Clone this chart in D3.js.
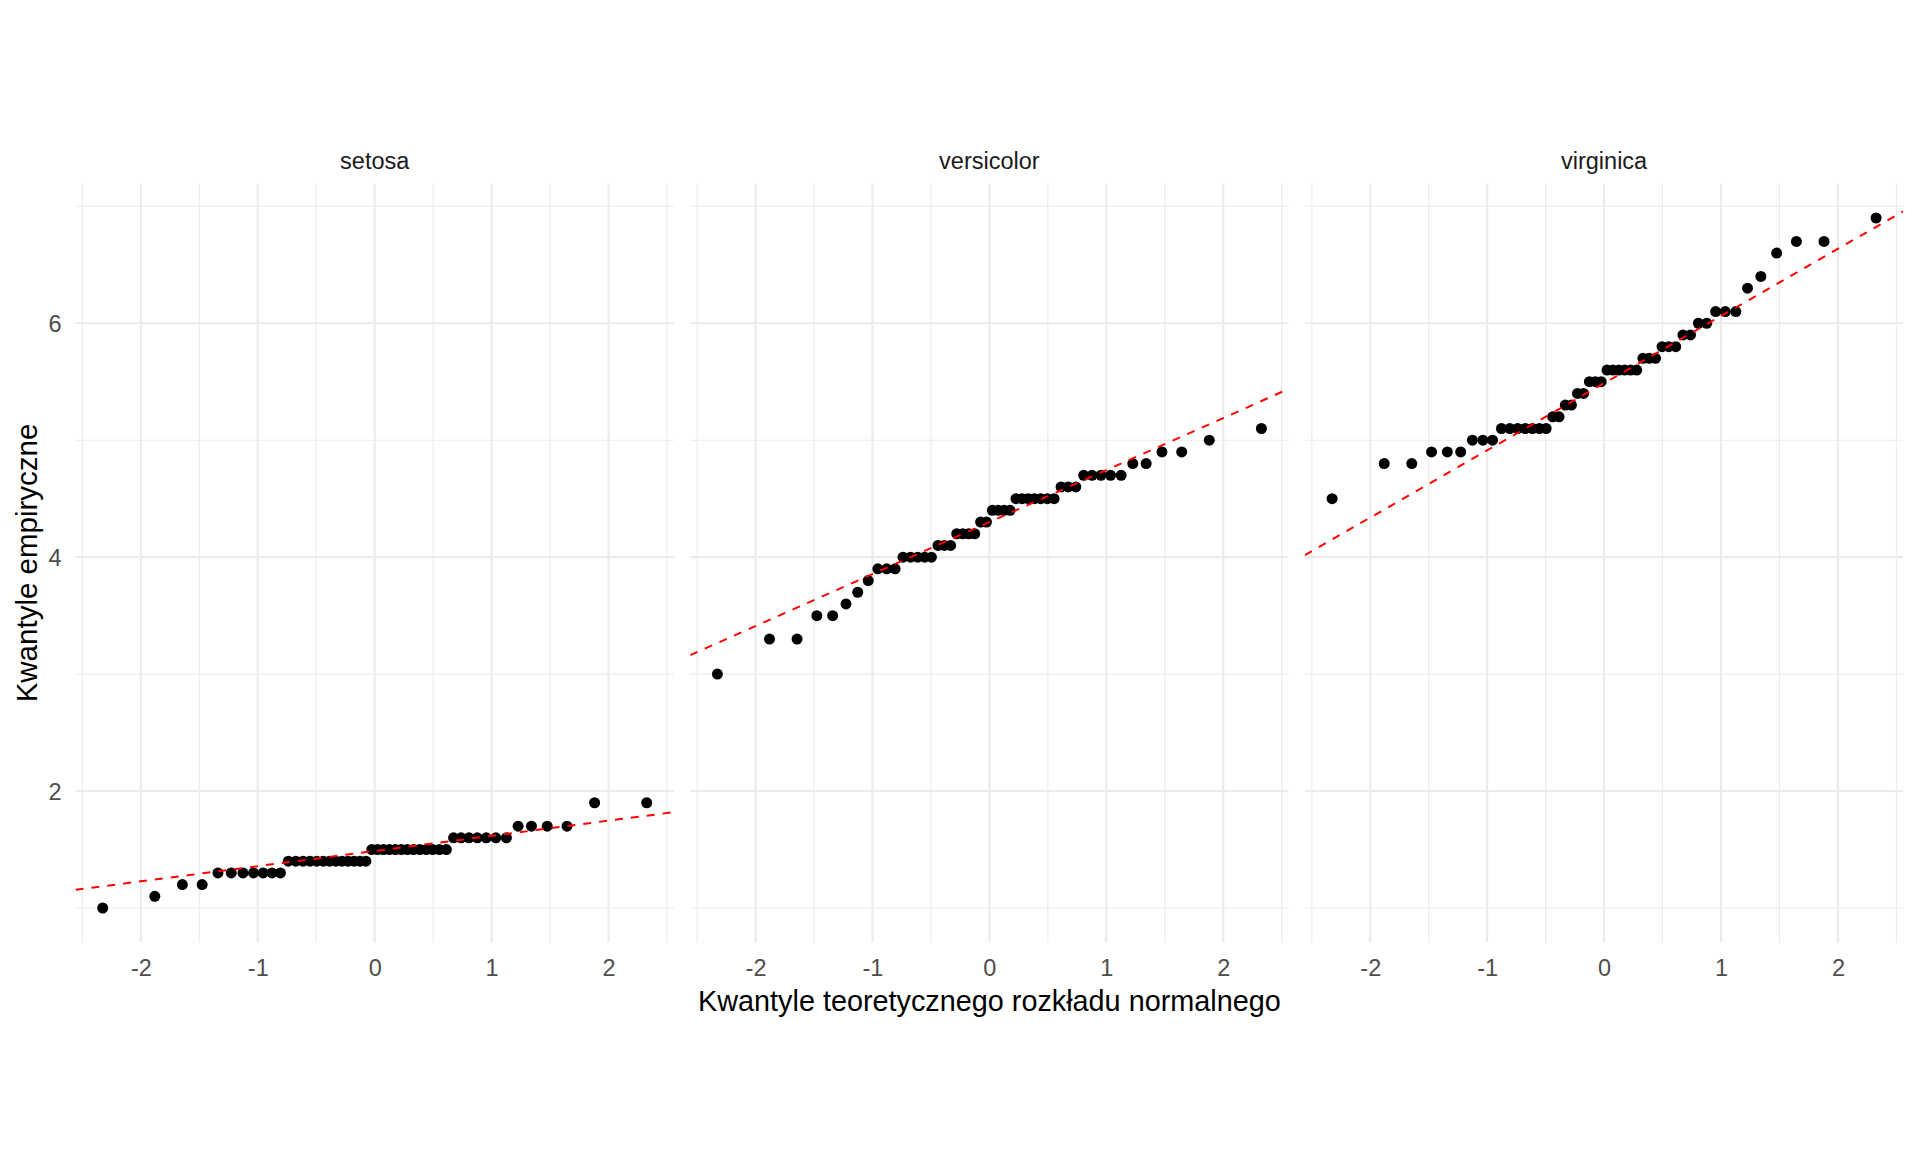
<!DOCTYPE html>
<html>
<head>
<meta charset="utf-8">
<script src="https://cdn.jsdelivr.net/npm/d3@7"></script>
<style>
html,body{margin:0;padding:0;background:#fff;}
svg{display:block;font-family:"Liberation Sans",Arial,sans-serif;}
</style>
</head>
<body>
<svg id="chart" width="1920" height="1152"></svg>
<script>
// ---- data ----
const species = ["setosa", "versicolor", "virginica"];

// sorted Petal.Length values per species (empirical quantiles)
const setosaValues = [1.0,1.1,1.2,1.2,1.3,1.3,1.3,1.3,1.3,1.3,1.3,1.4,1.4,1.4,1.4,1.4,1.4,1.4,1.4,1.4,1.4,1.4,1.4,1.4,1.5,1.5,1.5,1.5,1.5,1.5,1.5,1.5,1.5,1.5,1.5,1.5,1.5,1.6,1.6,1.6,1.6,1.6,1.6,1.6,1.7,1.7,1.7,1.7,1.9,1.9];
const versicolorValues = [3.0,3.3,3.3,3.5,3.5,3.6,3.7,3.8,3.9,3.9,3.9,4.0,4.0,4.0,4.0,4.0,4.1,4.1,4.1,4.2,4.2,4.2,4.2,4.3,4.3,4.4,4.4,4.4,4.4,4.5,4.5,4.5,4.5,4.5,4.5,4.5,4.6,4.6,4.6,4.7,4.7,4.7,4.7,4.7,4.8,4.8,4.9,4.9,5.0,5.1];
const virginicaValues = [4.5,4.8,4.8,4.9,4.9,4.9,5.0,5.0,5.0,5.1,5.1,5.1,5.1,5.1,5.1,5.1,5.2,5.2,5.3,5.3,5.4,5.4,5.5,5.5,5.5,5.6,5.6,5.6,5.6,5.6,5.6,5.7,5.7,5.7,5.8,5.8,5.8,5.9,5.9,6.0,6.0,6.1,6.1,6.1,6.3,6.4,6.6,6.7,6.7,6.9];

// theoretical normal quantiles for n = 50
const theoreticalQuantiles = [-2.3263479,-1.8807936,-1.6448536,-1.4757910,-1.3407550,-1.2265281,-1.1263911,-1.0364334,-0.9541653,-0.8778963,-0.8064212,-0.7388468,-0.6744898,-0.6128130,-0.5533847,-0.4958503,-0.4399132,-0.3853205,-0.3318533,-0.2793190,-0.2275450,-0.1763742,-0.1256613,-0.0752699,-0.0250689,0.0250689,0.0752699,0.1256613,0.1763742,0.2275450,0.2793190,0.3318533,0.3853205,0.4399132,0.4958503,0.5533847,0.6128130,0.6744898,0.7388468,0.8064212,0.8778963,0.9541653,1.0364334,1.1263911,1.2265281,1.3407550,1.4757910,1.6448536,1.8807936,2.3263479];

const xTicks = [-2, -1, 0, 1, 2];
const yTicks = [2, 4, 6];
const xMinor = [-2.5, -1.5, -0.5, 0.5, 1.5, 2.5];
const yMinor = [1, 3, 5, 7];

const xTitle = "Kwantyle teoretycznego rozkładu normalnego";
const yTitle = "Kwantyle empiryczne";

// ---- layout ----
const valuesBySpecies = {setosa: setosaValues, versicolor: versicolorValues, virginica: virginicaValues};
const panelLeft = 75.5, panelWidth = 598.4, panelGap = 16.3;
const panelTop = 183.5, panelBottom = 942.5;

const svg = d3.select("#chart");

function expand(ext) {
  const d = (ext[1] - ext[0]) * 0.05;
  return [ext[0] - d, ext[1] + d];
}
const xDomain = expand(d3.extent(theoreticalQuantiles));
const yDomain = expand(d3.extent([].concat(setosaValues, versicolorValues, virginicaValues)));

const y = d3.scaleLinear().domain(yDomain).range([panelBottom, panelTop]);

const gridColor = "#EBEBEB";
const fmt = d => d < 0 ? "-" + Math.abs(d) : String(d);

species.forEach((sp, i) => {
  const x0 = panelLeft + i * (panelWidth + panelGap);
  const x = d3.scaleLinear().domain(xDomain).range([x0, x0 + panelWidth]);
  const g = svg.append("g");

  // clip
  svg.append("clipPath").attr("id", "clip" + i)
    .append("rect").attr("x", x0).attr("y", panelTop)
    .attr("width", panelWidth).attr("height", panelBottom - panelTop);

  // minor grid
  g.selectAll(".ymin").data(yMinor).enter().append("line")
    .attr("x1", x0).attr("x2", x0 + panelWidth)
    .attr("y1", d => y(d)).attr("y2", d => y(d))
    .attr("stroke", gridColor).attr("stroke-width", 1.1);
  g.selectAll(".xmin").data(xMinor).enter().append("line")
    .attr("x1", d => x(d)).attr("x2", d => x(d))
    .attr("y1", panelTop).attr("y2", panelBottom)
    .attr("stroke", gridColor).attr("stroke-width", 1.1);
  // major grid
  g.selectAll(".ymaj").data(yTicks).enter().append("line")
    .attr("x1", x0).attr("x2", x0 + panelWidth)
    .attr("y1", d => y(d)).attr("y2", d => y(d))
    .attr("stroke", gridColor).attr("stroke-width", 2.1);
  g.selectAll(".xmaj").data(xTicks).enter().append("line")
    .attr("x1", d => x(d)).attr("x2", d => x(d))
    .attr("y1", panelTop).attr("y2", panelBottom)
    .attr("stroke", gridColor).attr("stroke-width", 2.1);

  // x axis (tick labels only)
  const xAxis = d3.axisBottom(x).tickValues(xTicks).tickSize(0).tickPadding(0).tickFormat(fmt);
  const ax = g.append("g").attr("transform", `translate(0,${panelBottom})`).call(xAxis);
  ax.select(".domain").remove();
  ax.selectAll("text").attr("dy", null).attr("y", 33).attr("fill", "#4D4D4D")
    .attr("font-size", 23.5).attr("font-family", "Liberation Sans, Arial, sans-serif");

  // strip label
  g.append("text").attr("x", x0 + panelWidth / 2).attr("y", 169)
    .attr("text-anchor", "middle").attr("font-size", 23.5).attr("fill", "#1A1A1A")
    .text(sp);

  // points
  const vals = valuesBySpecies[sp];
  g.selectAll(".pt").data(vals).enter().append("circle")
    .attr("cx", (d, j) => x(theoreticalQuantiles[j]))
    .attr("cy", d => y(d))
    .attr("r", 5.5).attr("fill", "#000");

  // qq line through quartiles
  const q1 = d3.quantile(vals, 0.25), q3 = d3.quantile(vals, 0.75);
  const z1 = -0.6744898, z3 = 0.6744898;
  const slope = (q3 - q1) / (z3 - z1);
  const intercept = q1 - slope * z1;
  g.append("line").attr("clip-path", `url(#clip${i})`)
    .attr("x1", x(xDomain[0])).attr("y1", y(intercept + slope * xDomain[0]))
    .attr("x2", x(xDomain[1])).attr("y2", y(intercept + slope * xDomain[1]))
    .attr("stroke", "red").attr("stroke-width", 2).attr("stroke-dasharray", "8,8");
});

// y axis labels (left panel only)
const yAxis = d3.axisLeft(y).tickValues(yTicks).tickSize(0).tickPadding(0).tickFormat(fmt);
const ay = svg.append("g").attr("transform", `translate(${panelLeft},0)`).call(yAxis);
ay.select(".domain").remove();
ay.selectAll("text").attr("x", -14).attr("dy", "0.36em").attr("fill", "#4D4D4D")
  .attr("font-size", 23.5).attr("font-family", "Liberation Sans, Arial, sans-serif");

// axis titles
svg.append("text").attr("x", panelLeft + (3 * panelWidth + 2 * panelGap) / 2).attr("y", 1011)
  .attr("text-anchor", "middle").attr("font-size", 28.8).attr("fill", "#000").text(xTitle);
svg.append("text").attr("transform", `translate(37,${(panelTop + panelBottom) / 2}) rotate(-90)`)
  .attr("text-anchor", "middle").attr("font-size", 29.5).attr("fill", "#000").text(yTitle);
</script>
</body>
</html>
